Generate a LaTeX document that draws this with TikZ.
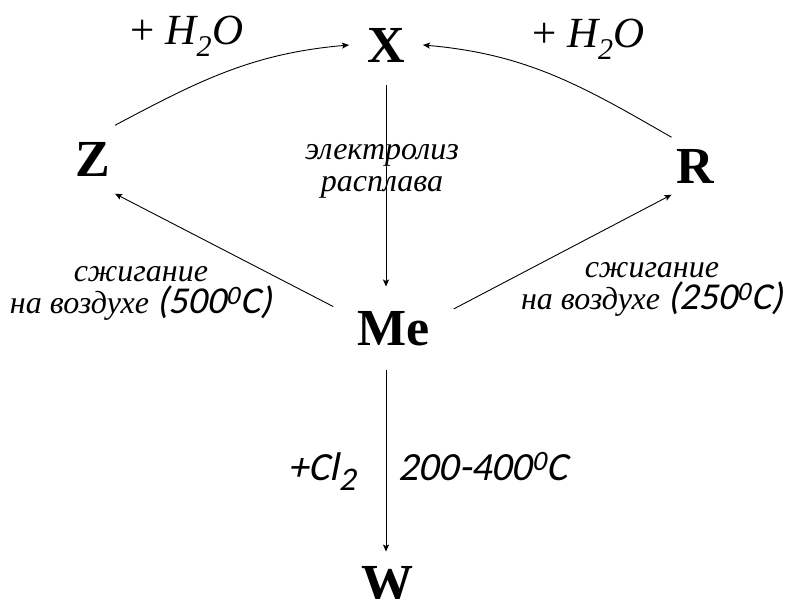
\documentclass[tikz,border=0pt]{standalone}
\usepackage{fontspec}
\setmainfont{Liberation Serif}
\newfontfamily\lblsans{Carlito}[AutoFakeSlant=0.2]
\usetikzlibrary{arrows.meta}
\tikzset{
  chem/.style={font=\fontsize{52}{60}\selectfont\bfseries, inner sep=0pt},
  arr/.style={line width=0.9pt, -{Stealth[length=7pt,width=6pt,inset=1.5pt]}},
  water/.style={font=\fontsize{43}{50}\selectfont, anchor=base, inner sep=0pt},
  cyr/.style={font=\fontsize{32}{32}\selectfont\itshape, align=center, inner sep=0pt},
  sanslbl/.style={font=\lblsans\fontsize{40}{44}\selectfont\itshape, anchor=base, inner sep=0pt}
}
\begin{document}
\begin{tikzpicture}[x=1pt,y=1pt]
\useasboundingbox (0,0) rectangle (790,598);
% main species
\node[chem, inner xsep=18pt, inner ysep=23pt] (X) at (386,553) {X};
\node[chem, inner xsep=5pt, inner ysep=17pt] (Z) at (92.5,438.5) {Z};
\node[chem, inner xsep=5pt, inner ysep=11.5pt] (R) at (695.5,432) {R};
\node[chem, inner xsep=24pt, inner ysep=24.5pt] (Me) at (393.5,269.5) {Me};
\node[chem, inner xsep=2pt, inner ysep=14.8pt] (W) at (387,14) {W};
% labels
\node[water] (wl) at (187,553) {+ \textit{H\textsubscript{2}O}};
\node[water] (wr) at (588.5,550) {+ \textit{H\textsubscript{2}O}};
\node[cyr, anchor=base] (el) at (382,406) {электролиз\\расплава};
\node[cyr, anchor=base] (bl) at (141,284) {сжигание\\на воздухе {\lblsans\fontsize{38}{40}\selectfont\itshape(500\textsuperscript{0}C)}};
\node[cyr, anchor=base] (br) at (652,288) {сжигание\\на воздухе {\lblsans\fontsize{38}{40}\selectfont\itshape(250\textsuperscript{0}C)}};
\node[sanslbl] (cl) at (322,118) {+Cl\raisebox{-0.25em}{\fontsize{33}{36}\selectfont 2}};
\node[sanslbl, anchor=base west] (tc) at (398,118) {200-400\textsuperscript{0}C};
% connectors
\draw[arr] (Z.north east) to[out=28,in=185] (X.west);
\draw[arr] (R.north west) to[out=150,in=-5] (X.east);
\draw[arr] (X.south) -- (X.south |- Me.north);
\draw[arr] (Me.160) -- (Z.south east);
\draw[arr] (Me.18) -- (R.south west);
\draw[arr] (Me.south -| X) -- (W.north -| X);
\end{tikzpicture}
\end{document}
